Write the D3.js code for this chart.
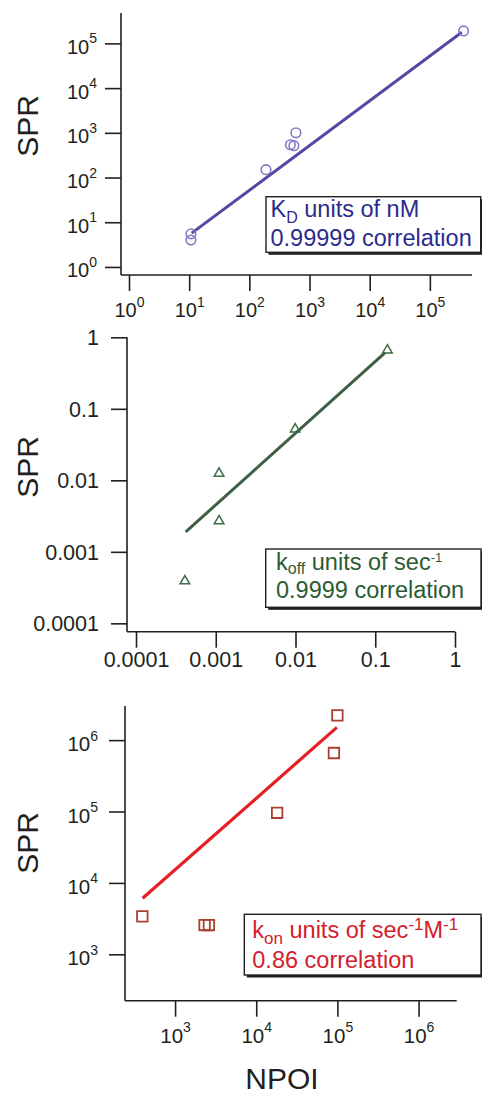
<!DOCTYPE html>
<html>
<head>
<meta charset="utf-8">
<script src="https://cdn.jsdelivr.net/npm/d3@7"></script>
<style>
  html, body { margin: 0; padding: 0; background: #fff; }
  svg { display: block; font-family: "Liberation Sans", Arial, Helvetica, sans-serif; }
</style>
</head>
<body>
<svg id="chart" width="482" height="1097"></svg>
<script>
// ---------- DATA ----------
// Panel 1: KD (nM)
const kdX = [10.7, 10.7, 189, 480, 550, 594, 363000];
const kdY = [5.5, 4.0, 150, 540, 515, 1000, 190000];
const kdFitX = [11, 339000];
const kdFitY = [5.7, 178000];
const kdXTicks = [1, 10, 100, 1000, 10000, 100000];
const kdYTicks = [1, 10, 100, 1000, 10000, 100000];

// Panel 2: koff (sec^-1)
const koffX = [0.00041, 0.0011, 0.0011, 0.0099, 0.142];
const koffY = [0.00039, 0.0027, 0.0125, 0.052, 0.66];
const koffFitX = [0.00042, 0.133];
const koffFitY = [0.0019, 0.61];
const koffTicks = [0.0001, 0.001, 0.01, 0.1, 1];
const koffTickLabels = ["0.0001", "0.001", "0.01", "0.1", "1"];

// Panel 3: kon (sec^-1 M^-1)
const konX = [395, 2310, 2610, 18100, 90600, 100000];
const konY = [3400, 2570, 2570, 96000, 660000, 2220000];
const konFitX = [398, 98600];
const konFitY = [6090, 1510000];
const konXTicks = [1000, 10000, 100000, 1000000];
const konYTicks = [1000, 10000, 100000, 1000000];

const yTitle = "SPR";
const xTitle = "NPOI";

// ---------- DRAW ----------
const svg = d3.select("#chart");
const AX = "#231f20";

function expLabel(textSel) {
  textSel.each(function(d) {
    const t = d3.select(this);
    const e = Math.round(Math.log10(d));
    t.text(null);
    t.append("tspan").text("10");
    t.append("tspan").attr("font-size", 14).attr("dy", -10.5).text(String(e));
  });
}

function panel(cfg) {
  const x = d3.scaleLog().domain(cfg.xDomain).range(cfg.xRange);
  const y = d3.scaleLog().domain(cfg.yDomain).range(cfg.yRange);
  const g = svg.append("g");

  const ya = d3.axisLeft(y).tickValues(cfg.yTicks).tickSize(16).tickPadding(cfg.yPad).tickSizeOuter(0);
  const gy = g.append("g").attr("transform", `translate(${cfg.xRange[0]},0)`).call(ya);
  gy.select(".domain").attr("d", `M0,${cfg.yRange[1]}V${cfg.yRange[0]}`);
  const xa = d3.axisBottom(x).tickValues(cfg.xTicks).tickSize(16).tickPadding(cfg.xPad).tickSizeOuter(0);
  const gx = g.append("g").attr("transform", `translate(0,${cfg.yRange[0]})`).call(xa);
  gx.select(".domain").attr("d", `M${cfg.xRange[0]},0H${cfg.xRange[1]}`);

  [gy, gx].forEach(a => {
    a.select(".domain").attr("stroke", AX).attr("stroke-width", 1.6);
    a.selectAll(".tick line").attr("stroke", AX).attr("stroke-width", 1.6);
    a.selectAll("text").attr("font-size", cfg.tickFont).attr("fill", AX)
      .attr("font-family", "Liberation Sans, Arial, sans-serif");
  });
  gy.selectAll(".tick text").attr("dy", cfg.yDy);
  gx.selectAll(".tick text").attr("dy", cfg.xDy);

  if (cfg.yExp) expLabel(gy.selectAll(".tick text"));
  else gy.selectAll(".tick text").text((d, i) => cfg.yLabels[i]);
  if (cfg.xExp) expLabel(gx.selectAll(".tick text"));
  else gx.selectAll(".tick text").text((d, i) => cfg.xLabels[i]);

  const fit = cfg.fitX.map((v, i) => [v, cfg.fitY[i]]);
  g.append("path").datum(fit)
    .attr("d", d3.line().x(d => x(d[0])).y(d => y(d[1])))
    .attr("fill", "none").attr("stroke", cfg.lineColor).attr("stroke-width", cfg.lineWidth);

  const pts = cfg.px.map((v, i) => [v, cfg.py[i]]);
  g.append("g").selectAll("path").data(pts).join("path")
    .attr("transform", d => `translate(${x(d[0])},${y(d[1])})`)
    .attr("d", d3.symbol().type(cfg.symbol).size(cfg.symSize))
    .attr("fill", "none").attr("stroke", cfg.markColor).attr("stroke-width", cfg.markWidth);

  g.append("text").attr("transform", `translate(${cfg.titleX},${cfg.titleY}) rotate(-90)`)
    .attr("text-anchor", "middle").attr("font-size", 30).attr("fill", AX).text(yTitle);

  const b = cfg.box;
  g.append("rect").attr("x", b[0] + 2.5).attr("y", b[1] + 2.5).attr("width", b[2]).attr("height", b[3]).attr("fill", AX);
  g.append("rect").attr("x", b[0]).attr("y", b[1]).attr("width", b[2]).attr("height", b[3])
    .attr("fill", "#fff").attr("stroke", AX).attr("stroke-width", 1.4);
  cfg.legend(g.append("g").attr("fill", cfg.textColor).attr("font-size", 23.5));
  return {x, y, g};
}

// Panel 1
panel({
  xDomain: [10 ** -0.133, 10 ** 5.70], xRange: [121, 472],
  yDomain: [10 ** -0.18, 10 ** 5.68], yRange: [275, 13],
  xTicks: kdXTicks, yTicks: kdYTicks, xExp: true, yExp: true, tickFont: 20,
  yPad: 8, yDy: 10, xPad: 6, xDy: 20,
  fitX: kdFitX, fitY: kdFitY, px: kdX, py: kdY,
  symbol: d3.symbolCircle, symSize: 72, markColor: "#8577c4", markWidth: 1.6,
  lineColor: "#5249a3", lineWidth: 3,
  titleX: 38, titleY: 126,
  box: [266, 196.7, 214.7, 55.6], textColor: "#2b2b8c",
  legend: lg => {
    const t1 = lg.append("text").attr("x", 270.5).attr("y", 216.5);
    t1.append("tspan").text("K");
    t1.append("tspan").attr("font-size", 16).attr("dy", 6).text("D");
    t1.append("tspan").attr("dy", -6).text(" units of nM");
    lg.append("text").attr("x", 270.5).attr("y", 245.5).text("0.99999 correlation");
  }
});

// Panel 2
panel({
  xDomain: [10 ** -4.113, 1], xRange: [127, 455],
  yDomain: [10 ** -4.117, 1], yRange: [631.7, 337.3],
  xTicks: koffTicks, yTicks: koffTicks, xExp: false, yExp: false, tickFont: 21.5,
  xLabels: koffTickLabels, yLabels: koffTickLabels,
  yPad: 12, yDy: 7.5, xPad: 5, xDy: 14,
  fitX: koffFitX, fitY: koffFitY, px: koffX, py: koffY,
  symbol: d3.symbolTriangle, symSize: 40, markColor: "#3f6a47", markWidth: 1.5,
  lineColor: "#3f5f44", lineWidth: 3,
  titleX: 38, titleY: 467,
  box: [265.7, 549, 215.3, 58.3], textColor: "#2c5a33",
  legend: lg => {
    const t1 = lg.append("text").attr("x", 276).attr("y", 570);
    t1.append("tspan").text("k");
    t1.append("tspan").attr("font-size", 16).attr("dy", 4).text("off");
    t1.append("tspan").attr("dy", -4).text(" units of sec");
    t1.append("tspan").attr("font-size", 13).attr("dy", -8).text("-1");
    lg.append("text").attr("x", 276).attr("y", 597.7).text("0.9999 correlation");
  }
});

// Panel 3
panel({
  xDomain: [10 ** 2.383, 10 ** 6.47], xRange: [125, 456.7],
  yDomain: [10 ** 2.35, 10 ** 6.478], yRange: [1000.7, 706],
  xTicks: konXTicks, yTicks: konYTicks, xExp: true, yExp: true, tickFont: 20.5,
  yPad: 11, yDy: 10.5, xPad: 6, xDy: 20,
  fitX: konFitX, fitY: konFitY, px: konX, py: konY,
  symbol: d3.symbolSquare, symSize: 110, markColor: "#a8412f", markWidth: 1.8,
  lineColor: "#e61e26", lineWidth: 3.2,
  titleX: 38, titleY: 843,
  box: [244.3, 914.3, 236.7, 60.7], textColor: "#d3202e",
  legend: lg => {
    const t1 = lg.append("text").attr("x", 252.3).attr("y", 938.3);
    t1.append("tspan").text("k");
    t1.append("tspan").attr("font-size", 17).attr("dy", 6).text("on");
    t1.append("tspan").attr("dy", -6).text(" units of sec");
    t1.append("tspan").attr("font-size", 17).attr("dy", -8).text("-1");
    t1.append("tspan").attr("dy", 8).text("M");
    t1.append("tspan").attr("font-size", 17).attr("dy", -8).text("-1");
    lg.append("text").attr("x", 252.3).attr("y", 968.3).text("0.86 correlation");
  }
});

svg.append("text").attr("x", 282).attr("y", 1089).attr("text-anchor", "middle")
  .attr("font-size", 30).attr("fill", AX).text(xTitle);
</script>
</body>
</html>
